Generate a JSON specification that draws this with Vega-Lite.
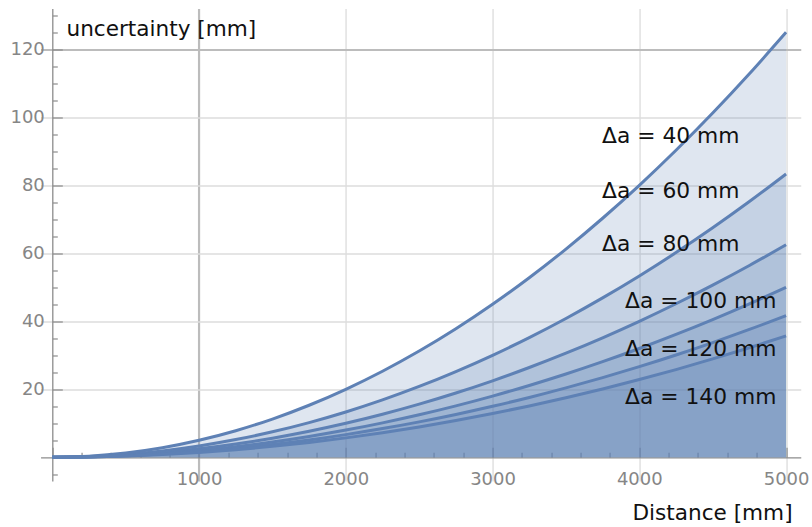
{
  "$schema": "https://vega.github.io/schema/vega-lite/v6.json",
  "width": 760.2,
  "height": 472.6,
  "autosize": {"type": "none"},
  "padding": {"left": 40.56, "top": 8.5, "right": 11, "bottom": 46},
  "background": "white",
  "config": {"view": {"stroke": null}, "font": "DejaVu Sans"},
  "datasets": {
    "curves": [
      {"d": 0, "a40": 0, "a60": 0, "a80": 0, "a100": 0, "a120": 0, "a140": 0},
      {"d": 250, "a40": 0.31, "a60": 0.21, "a80": 0.16, "a100": 0.13, "a120": 0.1, "a140": 0.09},
      {"d": 500, "a40": 1.25, "a60": 0.83, "a80": 0.63, "a100": 0.5, "a120": 0.42, "a140": 0.36},
      {"d": 750, "a40": 2.81, "a60": 1.88, "a80": 1.41, "a100": 1.13, "a120": 0.94, "a140": 0.8},
      {"d": 1000, "a40": 5, "a60": 3.33, "a80": 2.5, "a100": 2, "a120": 1.67, "a140": 1.43},
      {"d": 1250, "a40": 7.81, "a60": 5.21, "a80": 3.91, "a100": 3.13, "a120": 2.6, "a140": 2.23},
      {"d": 1500, "a40": 11.25, "a60": 7.5, "a80": 5.63, "a100": 4.5, "a120": 3.75, "a140": 3.21},
      {"d": 1750, "a40": 15.31, "a60": 10.21, "a80": 7.66, "a100": 6.13, "a120": 5.1, "a140": 4.38},
      {"d": 2000, "a40": 20, "a60": 13.33, "a80": 10, "a100": 8, "a120": 6.67, "a140": 5.71},
      {"d": 2250, "a40": 25.31, "a60": 16.88, "a80": 12.66, "a100": 10.13, "a120": 8.44, "a140": 7.23},
      {"d": 2500, "a40": 31.25, "a60": 20.83, "a80": 15.63, "a100": 12.5, "a120": 10.42, "a140": 8.93},
      {"d": 2750, "a40": 37.81, "a60": 25.21, "a80": 18.91, "a100": 15.13, "a120": 12.6, "a140": 10.8},
      {"d": 3000, "a40": 45, "a60": 30, "a80": 22.5, "a100": 18, "a120": 15, "a140": 12.86},
      {"d": 3250, "a40": 52.81, "a60": 35.21, "a80": 26.41, "a100": 21.13, "a120": 17.6, "a140": 15.09},
      {"d": 3500, "a40": 61.25, "a60": 40.83, "a80": 30.63, "a100": 24.5, "a120": 20.42, "a140": 17.5},
      {"d": 3750, "a40": 70.31, "a60": 46.88, "a80": 35.16, "a100": 28.13, "a120": 23.44, "a140": 20.09},
      {"d": 4000, "a40": 80, "a60": 53.33, "a80": 40, "a100": 32, "a120": 26.67, "a140": 22.86},
      {"d": 4250, "a40": 90.31, "a60": 60.21, "a80": 45.16, "a100": 36.13, "a120": 30.1, "a140": 25.8},
      {"d": 4500, "a40": 101.25, "a60": 67.5, "a80": 50.63, "a100": 40.5, "a120": 33.75, "a140": 28.93},
      {"d": 4750, "a40": 112.81, "a60": 75.21, "a80": 56.41, "a100": 45.13, "a120": 37.6, "a140": 32.23},
      {"d": 5000, "a40": 125, "a60": 83.33, "a80": 62.5, "a100": 50, "a120": 41.67, "a140": 35.71}
    ],
    "labels": [
      {"d": 3746, "u": 94.4, "label": "Δa = 40 mm"},
      {"d": 3746, "u": 78.4, "label": "Δa = 60 mm"},
      {"d": 3746, "u": 62.8, "label": "Δa = 80 mm"},
      {"d": 3903, "u": 46.1, "label": "Δa = 100 mm"},
      {"d": 3903, "u": 31.9, "label": "Δa = 120 mm"},
      {"d": 3903, "u": 17.7, "label": "Δa = 140 mm"}
    ]
  },
  "encoding": {
    "x": {
      "field": "d",
      "type": "quantitative",
      "scale": {"domain": [-80, 5100], "nice": false, "zero": false},
      "axis": {
        "title": "Distance [mm]",
        "offset": -23.8,
        "values": [0, 200, 400, 600, 800, 1000, 1200, 1400, 1600, 1800, 2000, 2200, 2400, 2600, 2800, 3000, 3200, 3400, 3600, 3800, 4000, 4200, 4400, 4600, 4800, 5000],
        "format": "d",
        "labelExpr": "datum.value % 1000 === 0 && datum.value > 0 ? datum.label : ''",
        "labelFont": "DejaVu Sans",
        "labelFontSize": 18,
        "labelColor": "#868686",
        "labelPadding": 23,
        "labelFlush": false,
        "labelOverlap": false,
        "tickSize": {"condition": {"test": "datum.value % 1000 === 0", "value": -10}, "value": -5},
        "tickColor": "#8c8c8c",
        "tickWidth": 1.2,
        "domainColor": "#8c8c8c",
        "domainWidth": 1.3,
        "grid": true,
        "gridColor": {"condition": {"test": "datum.value === 1000", "value": "#bcbcbc"}, "value": "#dcdcdc"},
        "gridWidth": {"condition": {"test": "datum.value === 1000", "value": 2.2}, "value": 1.3},
        "gridOpacity": {"condition": {"test": "datum.value % 1000 === 0 && datum.value > 0", "value": 1}, "value": 0},
        "titleFont": "DejaVu Sans",
        "titleFontSize": 21.6,
        "titleFontWeight": "normal",
        "titleColor": "#111111",
        "titleAlign": "right",
        "titleBaseline": "middle",
        "titleX": 751.5,
        "titleY": 56
      }
    },
    "y": {
      "field": "u",
      "type": "quantitative",
      "scale": {"domain": [-7, 132], "nice": false, "zero": false},
      "axis": {
        "title": "uncertainty [mm]",
        "offset": -11.74,
        "values": [-5, 0, 5, 10, 15, 20, 25, 30, 35, 40, 45, 50, 55, 60, 65, 70, 75, 80, 85, 90, 95, 100, 105, 110, 115, 120, 125, 130],
        "format": "d",
        "labelExpr": "datum.value % 20 === 0 && datum.value > 0 ? datum.label : ''",
        "labelFont": "DejaVu Sans",
        "labelFontSize": 18,
        "labelColor": "#868686",
        "labelPadding": 18,
        "labelFlush": false,
        "labelOverlap": false,
        "tickSize": {"condition": {"test": "datum.value % 20 === 0", "value": -10}, "value": -5},
        "tickColor": "#8c8c8c",
        "tickWidth": 1.2,
        "domainColor": "#8c8c8c",
        "domainWidth": 1.3,
        "grid": true,
        "gridColor": {"condition": {"test": "datum.value === 120", "value": "#bcbcbc"}, "value": "#dcdcdc"},
        "gridWidth": {"condition": {"test": "datum.value === 120", "value": 2.2}, "value": 1.3},
        "gridOpacity": {"condition": {"test": "datum.value % 20 === 0 && datum.value > 0", "value": 1}, "value": 0},
        "titleFont": "DejaVu Sans",
        "titleFontSize": 21.6,
        "titleFontWeight": "normal",
        "titleColor": "#111111",
        "titleAngle": 0,
        "titleAlign": "left",
        "titleBaseline": "middle",
        "titleX": 13.7,
        "titleY": 21.5
      }
    }
  },
  "layer": [
    {
      "data": {"name": "curves"},
      "transform": [{"fold": ["a40", "a60", "a80", "a100", "a120", "a140"], "as": ["series", "u"]}],
      "layer": [
        {
          "mark": {"type": "area", "color": "#5E81B5", "opacity": 0.2, "interpolate": "monotone"},
          "encoding": {
            "y": {"field": "u", "type": "quantitative", "stack": null},
            "y2": {"datum": 0},
            "detail": {"field": "series"}
          }
        },
        {
          "mark": {"type": "line", "color": "#5E81B5", "strokeWidth": 3, "interpolate": "monotone"},
          "encoding": {
            "detail": {"field": "series"}
          }
        }
      ]
    },
    {
      "data": {"name": "labels"},
      "mark": {"type": "text", "align": "left", "baseline": "middle", "font": "DejaVu Sans", "fontSize": 21.8, "color": "#111111"},
      "encoding": {"text": {"field": "label"}}
    }
  ]
}
